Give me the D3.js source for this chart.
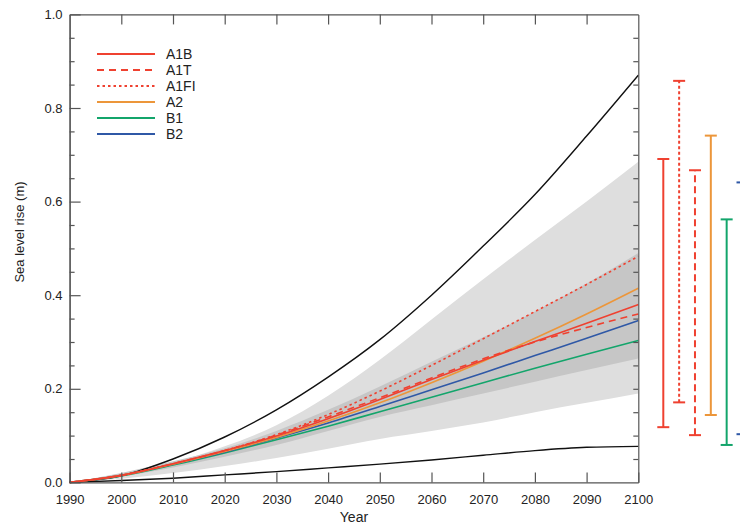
<!DOCTYPE html>
<html>
<head>
<meta charset="utf-8">
<script src="https://cdn.jsdelivr.net/npm/d3@7"></script>
<style>
  body { margin: 0; background: #fff; }
  svg { display: block; font-family: "Liberation Sans", Arial, sans-serif; }
</style>
</head>
<body>
<div id="chart"></div>
<script>
// data
const years = [1990, 2000, 2010, 2020, 2030, 2040, 2050, 2060, 2070, 2080, 2090, 2100];

const envelopeHigh = [0, 0.014, 0.05, 0.097, 0.155, 0.225, 0.305, 0.40, 0.505, 0.615, 0.74, 0.87];
const envelopeLow  = [0, 0.004, 0.009, 0.016, 0.023, 0.031, 0.039, 0.048, 0.058, 0.068, 0.075, 0.077];

const outerHigh = [0, 0.018, 0.042, 0.077, 0.122, 0.185, 0.262, 0.348, 0.434, 0.518, 0.60, 0.685];
const outerLow  = [0, 0.008, 0.02, 0.035, 0.052, 0.072, 0.093, 0.11, 0.128, 0.15, 0.17, 0.19];
const innerHigh = [0, 0.02, 0.045, 0.073, 0.11, 0.155, 0.205, 0.258, 0.31, 0.365, 0.425, 0.49];
const innerLow  = [0, 0.013, 0.032, 0.055, 0.08, 0.11, 0.14, 0.165, 0.19, 0.215, 0.24, 0.265];

const scenarioNames = ["A1B", "A1T", "A1FI", "A2", "B1", "B2"];
const a1b  = [0, 0.015, 0.04, 0.068, 0.099, 0.136, 0.177, 0.22, 0.261, 0.301, 0.34, 0.38];
const a1t  = [0, 0.015, 0.04, 0.068, 0.101, 0.14, 0.181, 0.223, 0.264, 0.30, 0.331, 0.36];
const a1fi = [0, 0.015, 0.04, 0.068, 0.102, 0.145, 0.195, 0.25, 0.307, 0.365, 0.423, 0.483];
const a2   = [0, 0.015, 0.039, 0.066, 0.096, 0.131, 0.17, 0.213, 0.259, 0.308, 0.36, 0.415];
const b1   = [0, 0.014, 0.037, 0.063, 0.091, 0.12, 0.151, 0.182, 0.213, 0.244, 0.274, 0.303];
const b2   = [0, 0.015, 0.039, 0.065, 0.095, 0.127, 0.162, 0.198, 0.234, 0.271, 0.308, 0.346];

// 2100 ranges shown as bars on the right
const rangeNames = ["A1B", "A1FI", "A1T", "A2", "B1", "B2"];
const rangeLow   = [0.118, 0.171, 0.101, 0.144, 0.080, 0.103];
const rangeHigh  = [0.691, 0.858, 0.667, 0.741, 0.562, 0.641];

const yTicks = [0, 0.2, 0.4, 0.6, 0.8, 1.0];

const style = {
  A1B:  { color: "#ef4130", dash: null },
  A1T:  { color: "#ef4130", dash: "7,5" },
  A1FI: { color: "#ef4130", dash: "2.5,3" },
  A2:   { color: "#ec963a", dash: null },
  B1:   { color: "#13a56b", dash: null },
  B2:   { color: "#2f58a6", dash: null }
};
const seriesByName = { A1B: a1b, A1T: a1t, A1FI: a1fi, A2: a2, B1: b1, B2: b2 };

const width = 740, height = 524;
const margin = { top: 14.4, left: 69.6, right: 101.7, bottom: 41.6 };
const iwidth = width - margin.left - margin.right;
const iheight = height - margin.top - margin.bottom;

const svg = d3.select("#chart").append("svg")
  .attr("width", width)
  .attr("height", height);
svg.append("rect").attr("width", width).attr("height", height).attr("fill", "#fff");

const g = svg.append("g").attr("transform", `translate(${margin.left},${margin.top})`);

const x = d3.scaleLinear().domain([1990, 2100]).range([0, iwidth]);
const y = d3.scaleLinear().domain([0, 1]).range([iheight, 0]);

const area = (hi, lo) => d3.area()
  .x((d, i) => x(years[i]))
  .y0((d, i) => y(lo[i]))
  .y1((d, i) => y(hi[i]))
  .curve(d3.curveMonotoneX);

const line = d3.line()
  .x((d, i) => x(years[i]))
  .y(d => y(d))
  .curve(d3.curveMonotoneX);

g.append("path").datum(years).attr("d", area(outerHigh, outerLow)).attr("fill", "#dedede");
g.append("path").datum(years).attr("d", area(innerHigh, innerLow)).attr("fill", "#c6c6c6");

g.append("path").datum(envelopeHigh).attr("d", line)
  .attr("fill", "none").attr("stroke", "#111").attr("stroke-width", 1.4);
g.append("path").datum(envelopeLow).attr("d", line)
  .attr("fill", "none").attr("stroke", "#111").attr("stroke-width", 1.4);

// draw in an order that puts the red lines on top
["B1", "B2", "A2", "A1T", "A1B", "A1FI"].forEach(name => {
  g.append("path").datum(seriesByName[name]).attr("d", line)
    .attr("fill", "none")
    .attr("stroke", style[name].color)
    .attr("stroke-width", 1.6)
    .attr("stroke-dasharray", style[name].dash);
});

// axes
const axisColor = "#555";
const xb = g.append("g").attr("transform", `translate(0,${iheight})`)
  .call(d3.axisBottom(x).tickValues(d3.range(1990, 2101, 10)).tickFormat(d3.format("d"))
    .tickSizeInner(-10).tickSizeOuter(0).tickPadding(12));
const xt = g.append("g")
  .call(d3.axisTop(x).tickValues(d3.range(2000, 2100, 10)).tickFormat("")
    .tickSizeInner(-10).tickSizeOuter(0));
const yl = g.append("g")
  .call(d3.axisLeft(y).tickValues(yTicks).tickFormat(d3.format(".1f"))
    .tickSizeInner(-11).tickSizeOuter(0).tickPadding(7));
const ylm = g.append("g")
  .call(d3.axisLeft(y).tickValues(d3.range(0.05, 1, 0.05).filter(v => Math.abs(v * 5 - Math.round(v * 5)) > 1e-6))
    .tickFormat("").tickSizeInner(-5).tickSizeOuter(0));
const yr = g.append("g").attr("transform", `translate(${iwidth},0)`)
  .call(d3.axisRight(y).tickValues(d3.range(0.05, 1, 0.05)).tickFormat("")
    .tickSizeInner(-5).tickSizeOuter(0));

[xb, xt, yl, ylm, yr].forEach(a => {
  a.select(".domain").attr("stroke", axisColor).attr("stroke-width", 1.2);
  a.selectAll(".tick line").attr("stroke", axisColor).attr("stroke-width", 1.2);
  a.selectAll(".tick text").attr("fill", "#222").style("font-size", "13px");
});

svg.append("text")
  .attr("x", margin.left + iwidth / 2)
  .attr("y", 522)
  .attr("text-anchor", "middle")
  .attr("fill", "#222")
  .style("font-size", "14px")
  .text("Year");

svg.append("text")
  .attr("transform", `translate(24,232) rotate(-90)`)
  .attr("text-anchor", "middle")
  .attr("fill", "#222")
  .style("font-size", "13px")
  .text("Sea level rise (m)");

// legend
const ly = d3.scalePoint().domain(scenarioNames).range([54, 134]);
const legend = svg.append("g");
scenarioNames.forEach(name => {
  legend.append("line")
    .attr("x1", 97).attr("x2", 155)
    .attr("y1", ly(name)).attr("y2", ly(name))
    .attr("stroke", style[name].color)
    .attr("stroke-width", 1.8)
    .attr("stroke-dasharray", style[name].dash);
  legend.append("text")
    .attr("x", 166).attr("y", ly(name))
    .attr("dy", "0.35em")
    .attr("fill", "#222")
    .style("font-size", "14px")
    .text(name);
});

// range bars at the right
const bx = d3.scalePoint().domain(rangeNames).range([663.3, 742.5]);
const bars = svg.append("g").attr("transform", `translate(0,${margin.top})`);
rangeNames.forEach((name, i) => {
  const cx = bx(name);
  const s = style[name];
  bars.append("line")
    .attr("x1", cx).attr("x2", cx)
    .attr("y1", y(rangeLow[i])).attr("y2", y(rangeHigh[i]))
    .attr("stroke", s.color).attr("stroke-width", 2)
    .attr("stroke-dasharray", s.dash ? (name === "A1T" ? "7,4" : "3,2.5") : null);
  [rangeLow[i], rangeHigh[i]].forEach(v => {
    bars.append("line")
      .attr("x1", cx - 6).attr("x2", cx + 6)
      .attr("y1", y(v)).attr("y2", y(v))
      .attr("stroke", s.color).attr("stroke-width", 2);
  });
});
</script>
</body>
</html>
